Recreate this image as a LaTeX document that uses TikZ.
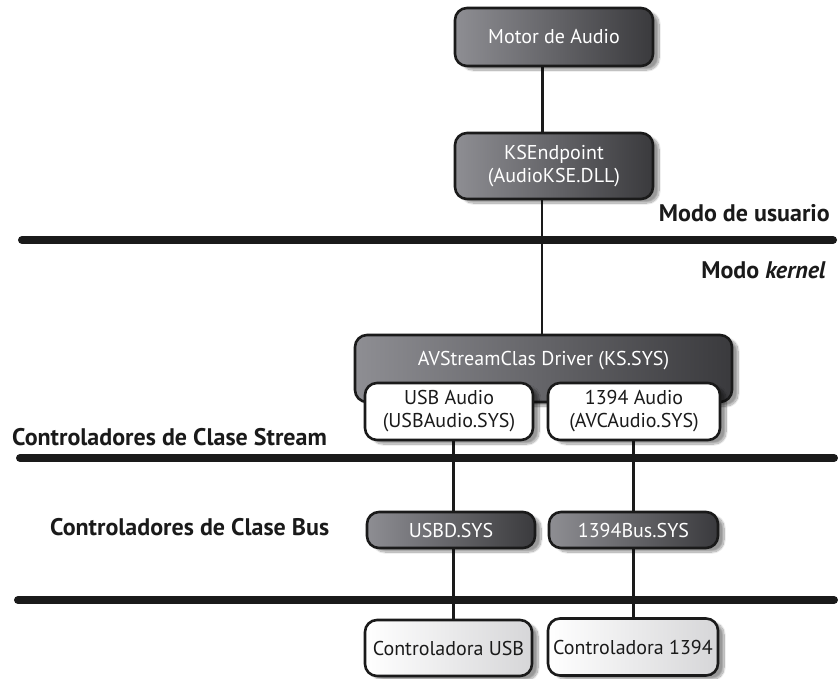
\documentclass[tikz,border=0pt]{standalone}
\usepackage{fontspec}
\setmainfont{PT Sans}
\usetikzlibrary{shadows.blur,backgrounds,calc}
\definecolor{ink}{HTML}{1A1A1A}
\definecolor{darkL}{HTML}{8E8E93}
\definecolor{darkR}{HTML}{3A3A3D}
\definecolor{paleR}{HTML}{D6D6D8}
\tikzset{
  box/.style={draw=ink, line width=2.6pt, rounded corners=12pt, inner sep=2pt,
    align=center, font=\fontsize{20}{23}\selectfont,
    blur shadow={shadow xshift=6pt, shadow yshift=-4pt, shadow opacity=40, shadow blur steps=14}},
  darkbox/.style={box, left color=darkL, right color=darkR, text=white},
  whitebox/.style={box, fill=white, text=ink},
  palebox/.style={box, left color=white, right color=paleR, text=ink},
  bar/.style={line width=8pt, line cap=round, draw=ink},
  link/.style={draw=ink, line width=3pt},
  thinlink/.style={draw=ink, line width=1.6pt},
  tag/.style={font=\bfseries\fontsize{24}{28}\selectfont, text=ink, inner sep=0pt},
}
\begin{document}
\begin{tikzpicture}[x=1pt,y=-1pt]
\useasboundingbox (0,0) rectangle (838,678);

% user-mode components
\node[darkbox, minimum width=198pt, minimum height=58pt] (motor) at (554,37) {Motor de Audio};
\node[darkbox, minimum width=198pt, minimum height=66pt] (kse) at (554,166) {KSEndpoint\\(AudioKSE.DLL)};

% kernel stream class driver with its minidrivers
\node[darkbox, minimum width=377pt, minimum height=67pt] (avs) at (543.5,368.5) {};
\node[text=white, font=\fontsize{20}{23}\selectfont] (avst) at (543.5,361) {AVStreamClas Driver (KS.SYS)};
\node[whitebox, minimum width=168pt, minimum height=57pt] (usba) at (449,411.5) {USB Audio\\(USBAudio.SYS)};
\node[whitebox, minimum width=172pt, minimum height=57pt] (fwa) at (634,411.5) {1394 Audio\\(AVCAudio.SYS)};

% bus class drivers
\node[darkbox, minimum width=168pt, minimum height=36pt] (usbd) at (451,530) {USBD.SYS};
\node[darkbox, minimum width=169pt, minimum height=36pt] (fwbus) at (633.5,530) {1394Bus.SYS};

% host controllers
\node[palebox, minimum width=167pt, minimum height=56pt] (cusb) at (448.5,648) {Controladora USB};
\node[palebox, minimum width=170pt, minimum height=57pt] (cfw) at (633,647) {Controladora 1394};

% layer labels
\node[tag, anchor=east] (lu) at (830,213) {Modo de usuario};
\node[tag, anchor=east] (lk) at (826,270) {Modo \textit{kernel}};
\node[tag, anchor=west] (ls) at (12,437) {Controladores de Clase Stream};
\node[tag, anchor=west] (lb) at (50,527) {Controladores de Clase Bus};

% spines for the vertical connectors
\coordinate (sp1) at (542,0);
\coordinate (sp2) at (453,0);
\coordinate (sp3) at (633,0);

\begin{scope}[on background layer]
  % layer separators
  \coordinate (b1l) at (22,240);  \coordinate (b1r) at (833,240);
  \coordinate (b2l) at (20,458);  \coordinate (b2r) at (834,458);
  \coordinate (b3l) at (18,600);  \coordinate (b3r) at (834,600);
  \draw[bar] (b1l) -- (b1r);
  \draw[bar] (b2l) -- (b2r);
  \draw[bar] (b3l) -- (b3r);
  % connectors
  \draw[link] (motor.south -| sp1) -- (kse.north -| sp1);
  \draw[thinlink] (kse.south -| sp1) -- (avs.north -| sp1);
  \draw[link] (usba.south -| sp2) -- (usbd.north -| sp2);
  \draw[link] (usbd.south -| sp2) -- (cusb.north -| sp2);
  \draw[link] (fwa.south -| sp3) -- (fwbus.north -| sp3);
  \draw[link] (fwbus.south -| sp3) -- (cfw.north -| sp3);
\end{scope}
\end{tikzpicture}
\end{document}
